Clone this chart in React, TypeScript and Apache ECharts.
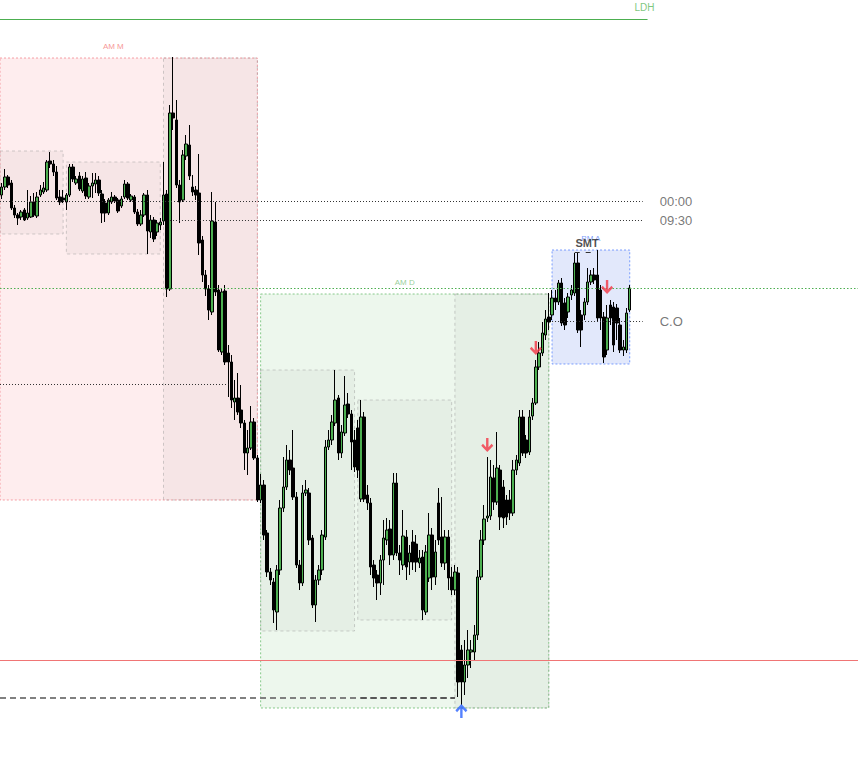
import React, { useEffect, useRef } from 'react';
import * as echarts from 'echarts';

// ---- data (price units; bar index = candle slot) ----
const N_BARS = 265;
const categories = Array.from({ length: N_BARS }, (_, i) => 'b' + (i + 1));

// [open, close, low, high]
const ohlc: number[][] = [
  [805, 813, 801, 817], [813, 823, 810, 831], [823, 815, 812, 825], [817, 792, 790, 820], [792, 785, 782, 795],
  [785, 782, 775, 787], [783, 788, 780, 790], [790, 780, 779, 792], [782, 787, 780, 810], [783, 798, 782, 804],
  [798, 785, 783, 807], [784, 803, 782, 808], [805, 810, 803, 815], [808, 812, 806, 818], [810, 838, 808, 840],
  [839, 836, 832, 848], [836, 828, 824, 840], [828, 802, 800, 834], [803, 798, 795, 810], [802, 800, 797, 810],
  [798, 805, 790, 807], [805, 833, 803, 836], [833, 821, 818, 836], [817, 821, 815, 824], [824, 811, 809, 828],
  [809, 821, 807, 824], [822, 804, 801, 828], [803, 814, 801, 817], [814, 817, 802, 827], [816, 820, 807, 827],
  [820, 807, 804, 824], [806, 787, 777, 810], [797, 787, 778, 801], [787, 800, 785, 802], [798, 803, 796, 808],
  [803, 799, 797, 805], [800, 789, 787, 802], [794, 801, 792, 804], [803, 816, 801, 820], [816, 802, 800, 818],
  [800, 804, 798, 806], [803, 788, 786, 805], [788, 776, 774, 791], [776, 785, 774, 790], [785, 805, 783, 807],
  [805, 769, 746, 810], [768, 780, 762, 785], [780, 761, 758, 783], [768, 777, 764, 780], [775, 778, 770, 782],
  [779, 805, 775, 838], [806, 711, 703, 810], [711, 887, 709, 895], [887, 882, 870, 943], [880, 815, 812, 900],
  [815, 798, 777, 820], [800, 845, 798, 850], [844, 856, 840, 865], [855, 824, 820, 875], [813, 808, 804, 825],
  [810, 805, 800, 814], [807, 757, 745, 846], [760, 725, 718, 764], [725, 711, 704, 730], [711, 690, 680, 715],
  [688, 779, 685, 808], [778, 708, 704, 798], [710, 650, 648, 715], [648, 708, 645, 712], [709, 638, 635, 715],
  [647, 638, 603, 655], [638, 600, 592, 645], [598, 602, 580, 620], [602, 588, 585, 627], [590, 577, 572, 615],
  [577, 547, 530, 580], [547, 552, 525, 570], [552, 578, 550, 594], [578, 542, 540, 582], [542, 500, 498, 545],
  [500, 515, 497, 526], [515, 465, 460, 520], [467, 428, 423, 470], [428, 420, 415, 432], [418, 390, 377, 422],
  [388, 430, 370, 435], [430, 492, 425, 500], [492, 513, 488, 543], [513, 540, 510, 555], [540, 530, 525, 550],
  [532, 503, 500, 570], [503, 435, 432, 508], [435, 417, 410, 440], [417, 507, 414, 515], [507, 510, 504, 520],
  [507, 460, 455, 512], [462, 395, 392, 465], [395, 420, 378, 425], [420, 430, 415, 435], [430, 465, 425, 470],
  [463, 553, 460, 560], [553, 560, 550, 570], [560, 578, 555, 585], [577, 600, 574, 630], [602, 547, 540, 605],
  [547, 568, 542, 575], [567, 595, 564, 624], [596, 586, 582, 607], [586, 558, 530, 590], [560, 533, 528, 570],
  [572, 530, 522, 580], [501, 583, 498, 600], [583, 501, 498, 588], [505, 497, 490, 515], [497, 433, 425, 502],
  [435, 422, 413, 440], [425, 417, 400, 430], [417, 440, 405, 445], [440, 462, 415, 480], [460, 470, 455, 482],
  [471, 445, 435, 480], [445, 517, 440, 527], [517, 447, 444, 527], [447, 440, 425, 455], [435, 464, 430, 490],
  [463, 433, 420, 470], [438, 447, 425, 455], [458, 438, 430, 470], [456, 438, 428, 465], [437, 442, 432, 450],
  [443, 390, 380, 450], [388, 448, 385, 455], [422, 465, 418, 487], [465, 423, 410, 472], [423, 448, 415, 460],
  [497, 460, 455, 512], [463, 437, 433, 503], [437, 463, 430, 470], [463, 422, 410, 470], [423, 410, 405, 433],
  [410, 428, 405, 435], [427, 318, 303, 433], [350, 318, 295, 355], [318, 335, 305, 360], [335, 350, 322, 370],
  [348, 350, 332, 360], [348, 365, 340, 375], [365, 423, 360, 430], [423, 460, 420, 470], [460, 481, 455, 495],
  [482, 484, 478, 543], [484, 523, 480, 540], [522, 498, 490, 535], [498, 532, 495, 568], [530, 483, 470, 535],
  [513, 482, 472, 520], [500, 483, 475, 505], [500, 487, 480, 510], [487, 530, 484, 540], [530, 540, 525, 545],
  [537, 583, 534, 590], [583, 547, 544, 590], [560, 547, 542, 565], [548, 583, 545, 590], [584, 597, 580, 602],
  [597, 633, 595, 640], [633, 647, 630, 658], [647, 667, 644, 678], [665, 681, 660, 690], [683, 678, 670, 707],
  [685, 702, 680, 710], [702, 698, 690, 710], [698, 717, 695, 720], [717, 677, 674, 722], [697, 675, 670, 702],
  [688, 703, 682, 707], [705, 710, 700, 715], [707, 737, 704, 747], [737, 670, 667, 747], [685, 670, 653, 690],
  [685, 698, 680, 702], [698, 718, 695, 732], [718, 725, 715, 730], [725, 720, 716, 732], [725, 682, 678, 750],
  [710, 682, 670, 715], [683, 643, 637, 688], [650, 682, 645, 695], [695, 682, 675, 700], [693, 655, 648, 698],
  [692, 677, 660, 696], [675, 650, 647, 682], [650, 653, 644, 660], [650, 687, 647, 692], [690, 712, 688, 715],
];

// sessions: bar range and price range
const sessions = [
  { label: 'AM M', from: -10, to: 79, high: 942, low: 500, tone: 'red' },
  { label: 'AM D', from: 80, to: 169, high: 706, low: 292, tone: 'green' },
  { label: 'PM A', from: 170, to: 194, high: 750, low: 636, tone: 'blue' },
];
const subRanges = [
  { from: -10, to: 19, high: 849, low: 766 },
  { from: 20, to: 49, high: 838, low: 746 },
  { from: 50, to: 79, high: 942, low: 500 },
  { from: 80, to: 109, high: 630, low: 369 },
  { from: 110, to: 139, high: 600, low: 380 },
  { from: 140, to: 169, high: 706, low: 292 },
];

// labelled horizontal levels (from -0.5 = left edge of the chart)
const levels = [
  { name: '00:00', from: -0.5, to: 198, price: 799 },
  { name: '09:30', from: 52, to: 198, price: 780 },
  { name: 'C.O', from: 170, to: 198, price: 679 },
  { name: '', from: -0.5, to: 70, price: 616 },
];
const ldh = { name: 'LDH', from: -0.5, to: 199.5, price: 981 };
const fullLines = { greenDotted: 712, red: 340 };
const grayDashed = { from: -0.5, to: 140, price: 302 };
const grayDashedDark = { from: 111, to: 140, price: 302 };

const downArrows = [[150, 555], [165, 652], [187, 713]];
const upArrows = [[142, 289]];
const smt = { from: 177, to: 183, price: 748, textAt: [180.8, 757] };

// ---- styles ----
const FONT = 'Liberation Sans, Arial, sans-serif';
const tones: Record<string, any> = {
  red: { fill: 'rgba(242,54,69,0.09)', border: 'rgba(240,100,110,0.6)', text: '#f47a7a' },
  green: { fill: 'rgba(76,175,80,0.10)', border: 'rgba(76,175,80,0.65)', text: '#7cc47f' },
  blue: { fill: 'rgba(60,100,230,0.15)', border: 'rgba(41,98,255,0.6)', text: '#5b84f5' },
};
const DOWN = 'path://M4,0L6,0L6,7.2L8.6,4.6L10,6L5,11L0,6L1.4,4.6L4,7.2Z';
const UP = 'path://M5,0L10,5L8.6,6.4L6,3.8L6,11L4,11L4,3.8L1.4,6.4L0,5Z';

function buildOption() {
  const areaData: any[] = [];
  sessions.forEach((s) => {
    const t = tones[s.tone];
    areaData.push([
      {
        coord: [s.from, s.high],
        itemStyle: { color: t.fill, borderColor: t.border, borderWidth: 1, borderType: [2, 2] },
      },
      { coord: [s.to, s.low] },
    ]);
  });
  subRanges.forEach((b) => {
    areaData.push([
      {
        coord: [b.from, b.high],
        itemStyle: {
          color: 'rgba(100,100,100,0.05)',
          borderColor: 'rgba(150,150,150,0.45)',
          borderWidth: 1,
          borderType: [3, 3],
        },
      },
      { coord: [b.to, b.low] },
    ]);
  });

  const dotted = { color: '#333', width: 1, type: [1, 2] };
  const lineData: any[] = [
    { yAxis: fullLines.greenDotted, lineStyle: { color: '#4caf50', width: 1, type: [1.5, 2] } },
    { yAxis: fullLines.red, lineStyle: { color: '#f07575', width: 1, type: 'solid' } },
    [
      { coord: [ldh.from, ldh.price], lineStyle: { color: '#4caf50', width: 1, type: 'solid' } },
      { coord: [ldh.to, ldh.price] },
    ],
    [
      { coord: [grayDashed.from, grayDashed.price], lineStyle: { color: '#808080', width: 2, type: [6, 4] } },
      { coord: [grayDashed.to, grayDashed.price] },
    ],
    [
      { coord: [grayDashedDark.from, grayDashedDark.price], lineStyle: { color: '#4a4a4a', width: 1.5, type: [6, 4] } },
      { coord: [grayDashedDark.to, grayDashedDark.price] },
    ],
    [
      { coord: [smt.from, smt.price], lineStyle: { color: '#333', width: 1, type: [5, 6] } },
      { coord: [smt.to, smt.price] },
    ],
  ];
  levels.forEach((l) => {
    lineData.push([{ coord: [l.from, l.price], lineStyle: dotted }, { coord: [l.to, l.price] }]);
  });

  const textData: any[] = [];
  levels.forEach((l) => {
    if (!l.name) return;
    textData.push({
      value: [l.to, l.price],
      label: {
        show: true, position: 'right', distance: 17, formatter: l.name,
        color: '#555', fontSize: 13, fontFamily: FONT,
      },
    });
  });
  textData.push({
    value: [ldh.to, ldh.price],
    label: {
      show: true, position: 'top', distance: 7, formatter: ldh.name, offset: [-3, 0],
      color: '#5cb85c', fontSize: 10, fontFamily: FONT,
    },
  });
  sessions.forEach((s) => {
    textData.push({
      value: [(s.from + s.to) / 2, s.high + 12],
      label: {
        show: true, position: 'inside', formatter: s.label,
        color: tones[s.tone].text, fontSize: 8, fontFamily: FONT,
      },
    });
  });
  textData.push({
    value: smt.textAt,
    label: {
      show: true, position: 'inside', formatter: 'SMT',
      color: '#222', fontSize: 11, fontWeight: 'bold', fontFamily: FONT,
    },
  });

  return {
    animation: false,
    grid: { left: 0, right: 0, top: 0, bottom: 0 },
    xAxis: [
      { type: 'category', data: categories, show: false },
      { type: 'value', min: -0.5, max: N_BARS - 0.5, show: false },
    ],
    yAxis: { type: 'value', min: 221, max: 1000, show: false },
    series: [
      {
        type: 'line', xAxisIndex: 1, data: [], z: 1, silent: true,
        markArea: { silent: true, data: areaData },
      },
      {
        type: 'line', xAxisIndex: 1, data: [], z: 2, silent: true,
        markLine: { silent: true, symbol: ['none', 'none'], label: { show: false }, data: lineData },
      },
      {
        type: 'candlestick', data: ohlc, barWidth: 3, z: 3,
        itemStyle: { color: '#4caf50', color0: '#000', borderColor: '#000', borderColor0: '#000', borderWidth: 1 },
      },
      {
        type: 'scatter', data: downArrows, symbol: DOWN, symbolSize: [12, 14], z: 6,
        itemStyle: { color: '#f23645' },
      },
      {
        type: 'scatter', data: upArrows, symbol: UP, symbolSize: [12, 14], z: 6,
        itemStyle: { color: '#2962ff' },
      },
      {
        type: 'scatter', xAxisIndex: 1, data: textData, symbolSize: 0, z: 7, silent: true,
      },
    ],
  };
}

export default function App() {
  const ref = useRef<HTMLDivElement>(null);
  useEffect(() => {
    const chart = echarts.init(ref.current!, null, { renderer: 'svg' });
    chart.setOption(buildOption() as any);
    return () => chart.dispose();
  }, []);
  return (
    <div
      ref={ref}
      style={{ position: 'absolute', left: 0, top: 0, width: 858, height: 779, background: '#fff' }}
    />
  );
}
